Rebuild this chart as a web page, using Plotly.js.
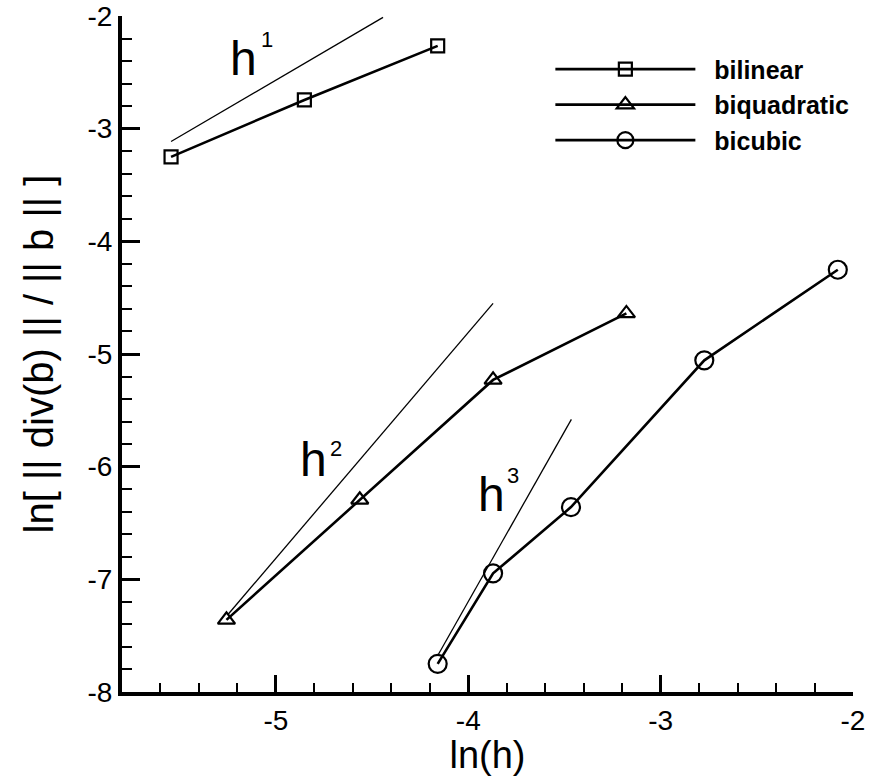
<!DOCTYPE html>
<html>
<head>
<meta charset="utf-8">
<script src="https://cdn.plot.ly/plotly-3.0.1.min.js"></script>
<style>html,body{margin:0;padding:0;background:#fff;}</style>
</head>
<body>
<div id="chart" style="width:884px;height:776px;"></div>
<script>
// ln(h) values and ln of normalised divergence error
var bilinearX = [-5.545, -4.852, -4.159];
var bilinearY = [-3.25, -2.745, -2.265];
var biquadX = [-5.257, -4.564, -3.871, -3.178];
var biquadY = [-7.36, -6.294, -5.23, -4.64];
var bicubicX = [-4.159, -3.871, -3.466, -2.773, -2.079];
var bicubicY = [-7.75, -6.947, -6.359, -5.056, -4.252];

// reference slope lines h^1, h^2, h^3
var ref1X = [-5.545, -4.443];
var ref1Y = [-3.114, -2.012];
var ref2X = [-5.248, -3.871];
var ref2Y = [-7.31, -4.55];
var ref3X = [-4.16, -3.464];
var ref3Y = [-7.68, -5.58];

var seriesNames = ['bilinear', 'biquadratic', 'bicubic'];
var refLabels = ['1', '2', '3'];

var xTickVals = [-5, -4, -3, -2];
var xTickText = ['-5', '-4', '-3', '-2'];
var yTickVals = [-8, -7, -6, -5, -4, -3, -2];
var yTickText = ['-8', '-7', '-6', '-5', '-4', '-3', '-2'];

var FONT = 'Liberation Sans, Arial, Helvetica, sans-serif';
var PAD = '\u00a0\u00a0';

function dataTrace(x, y, name, symbol, size) {
  return {
    x: x, y: y, name: PAD + name, type: 'scatter', mode: 'lines+markers',
    line: {color: '#000', width: 2.6},
    marker: {symbol: symbol, size: size, color: '#000', line: {color: '#000', width: 2.2}},
    showlegend: true
  };
}
function refTrace(x, y) {
  return {x: x, y: y, type: 'scatter', mode: 'lines', line: {color: '#000', width: 1.3}, showlegend: false, hoverinfo: 'skip'};
}

var traces = [
  refTrace(ref1X, ref1Y),
  refTrace(ref2X, ref2Y),
  refTrace(ref3X, ref3Y),
  dataTrace(bilinearX, bilinearY, seriesNames[0], 'square-open', 13),
  dataTrace(biquadX, biquadY, seriesNames[1], 'triangle-up-open', 15),
  dataTrace(bicubicX, bicubicY, seriesNames[2], 'circle-open', 18)
];

function hLabel(x, y) {
  return {x: x, y: y, xref: 'x', yref: 'y', text: 'h', showarrow: false,
    font: {family: FONT, size: 48, color: '#000'}, xanchor: 'center', yanchor: 'middle'};
}
function supLabel(x, y, t) {
  return {x: x, y: y, xref: 'x', yref: 'y', text: t, showarrow: false,
    font: {family: FONT, size: 22, color: '#000'}, xanchor: 'center', yanchor: 'middle'};
}

var layout = {
  width: 884, height: 776,
  margin: {l: 122, r: 31, t: 16, b: 84},
  paper_bgcolor: '#fff', plot_bgcolor: '#fff',
  font: {family: FONT, color: '#000'},
  showlegend: true,
  legend: {
    x: 0.586, y: 0.955, xanchor: 'left', yanchor: 'top',
    font: {family: FONT, size: 25, color: '#000', weight: 'bold'},
    bgcolor: 'rgba(0,0,0,0)', itemwidth: 140, tracegroupgap: 0
  },
  xaxis: {
    range: [-5.8, -2], showgrid: false, zeroline: false,
    showline: true, linecolor: '#000', linewidth: 4, mirror: false,
    ticks: 'inside', ticklen: 17, tickwidth: 3, tickcolor: '#000',
    tickmode: 'array', tickvals: xTickVals, ticktext: xTickText,
    tickfont: {family: FONT, size: 28, color: '#000'},
    minor: {ticks: 'inside', ticklen: 9, tickwidth: 2, tickcolor: '#000', dtick: 0.2, tick0: -2, showgrid: false},
    title: {text: 'ln(h)', font: {family: FONT, size: 38, color: '#000'}, standoff: 7},
    automargin: false
  },
  yaxis: {
    range: [-8, -2], showgrid: false, zeroline: false,
    showline: true, linecolor: '#000', linewidth: 4, mirror: false,
    ticks: 'inside', ticklen: 18, tickwidth: 3, tickcolor: '#000',
    tickmode: 'array', tickvals: yTickVals, ticktext: yTickText,
    tickfont: {family: FONT, size: 28, color: '#000'},
    minor: {ticks: 'inside', ticklen: 10, tickwidth: 2, tickcolor: '#000', dtick: 0.2, tick0: -2, showgrid: false},
    title: {text: 'ln[ || div(b) || / || b || ]', font: {family: FONT, size: 40, color: '#000'}, standoff: 22},
    automargin: false
  },
  annotations: [
    hLabel(-5.171, -2.375), supLabel(-5.047, -2.205, refLabels[0]),
    hLabel(-4.806, -5.94), supLabel(-4.69, -5.84, refLabels[1]),
    hLabel(-3.88, -6.25), supLabel(-3.765, -6.075, refLabels[2])
  ]
};

Plotly.newPlot('chart', traces, layout, {staticPlot: true, displayModeBar: false});
</script>
</body>
</html>
